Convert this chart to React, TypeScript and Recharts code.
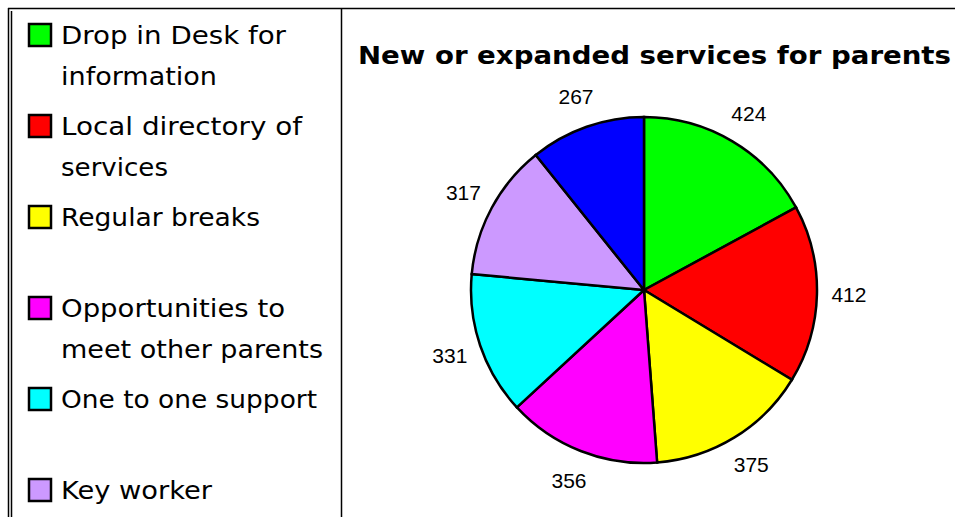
import React from "react";
import { Cell, Pie, PieChart } from "recharts";

const CATEGORIES = [
  "Drop in Desk for information",
  "Local directory of services",
  "Regular breaks",
  "Opportunities to meet other parents",
  "One to one support",
  "Key worker",
  "",
];
const VALUES = [424, 412, 375, 356, 331, 317, 267];
const COLORS = ["#00FF00", "#FF0000", "#FFFF00", "#FF00FF", "#00FFFF", "#CC99FF", "#0000FF"];

// legend text as it wraps in the picture (the last item is cut off below the frame)
const LEGEND_LINES = [
  ["Drop in Desk for", "information"],
  ["Local directory of", "services"],
  ["Regular breaks"],
  ["Opportunities to", "meet other parents"],
  ["One to one support"],
  ["Key worker"],
];
const LEGEND_WIDTHS = [
  [225, 156],
  [241, 107],
  [199],
  [224, 262],
  [256],
  [151],
];

const TITLE = "New or expanded services for parents";

const data = CATEGORIES.map((name, i) => ({ name, value: VALUES[i] }));

const RAD = Math.PI / 180;

function renderLabel(props: any) {
  const { cx, cy, midAngle, outerRadius, value } = props;
  const r = outerRadius + 32;
  const x = cx + r * Math.cos(-midAngle * RAD);
  const y = cy + r * Math.sin(-midAngle * RAD);
  return (
    <text
      x={x}
      y={y}
      textAnchor="middle"
      dominantBaseline="central"
      fontFamily="'Liberation Sans', Arial, sans-serif"
      fontSize={21}
      fill="#000"
    >
      {value}
    </text>
  );
}

function LegendBox() {
  let baseline = 44;
  const rows: React.ReactNode[] = [];
  LEGEND_LINES.forEach((lines, i) => {
    const b = baseline;
    rows.push(
      <g key={i}>
        <rect x={29} y={b - 20} width={22} height={22} fill={COLORS[i]} stroke="#000" strokeWidth={2.5} />
        {lines.map((line, j) => (
          <text
            key={j}
            x={61}
            y={b + j * 41}
            fontFamily="'DejaVu Sans', Verdana, sans-serif"
            fontSize={24.5}
            textLength={LEGEND_WIDTHS[i][j]}
            lengthAdjust="spacingAndGlyphs"
            fill="#000"
          >
            {line}
          </text>
        ))}
      </g>
    );
    baseline += 91;
  });
  return <g>{rows}</g>;
}

export default function App() {
  return (
    <div style={{ position: "absolute", left: 0, top: 0, width: 955, height: 517, background: "#fff", overflow: "hidden" }}>
      <PieChart width={955} height={517} margin={{ top: 0, right: 0, bottom: 0, left: 0 }}>
        <Pie
          data={data}
          dataKey="value"
          nameKey="name"
          cx={644}
          cy={290}
          outerRadius={173}
          startAngle={90}
          endAngle={-270}
          stroke="#000"
          strokeWidth={2.5}
          label={renderLabel}
          labelLine={false}
          isAnimationActive={false}
        >
          {data.map((entry, index) => (
            <Cell key={`${entry.name}-${entry.value}`} fill={COLORS[index]} />
          ))}
        </Pie>
      </PieChart>
      <svg
        width={955}
        height={517}
        style={{ position: "absolute", left: 0, top: 0, pointerEvents: "none" }}
      >
        <line x1={8} y1={8.5} x2={955} y2={8.5} stroke="#000" strokeWidth={1.5} />
        <line x1={8.5} y1={8} x2={8.5} y2={517} stroke="#000" strokeWidth={1.5} />
        <line x1={11.5} y1={11} x2={11.5} y2={517} stroke="#000" strokeWidth={1.5} />
        <line x1={341.5} y1={8} x2={341.5} y2={517} stroke="#000" strokeWidth={1.5} />
        <LegendBox />
        <text
          x={358}
          y={64}
          fontFamily="'DejaVu Sans', Verdana, sans-serif"
          fontWeight="bold"
          fontSize={24}
          textLength={593}
          lengthAdjust="spacingAndGlyphs"
          fill="#000"
        >
          {TITLE}
        </text>
      </svg>
    </div>
  );
}
